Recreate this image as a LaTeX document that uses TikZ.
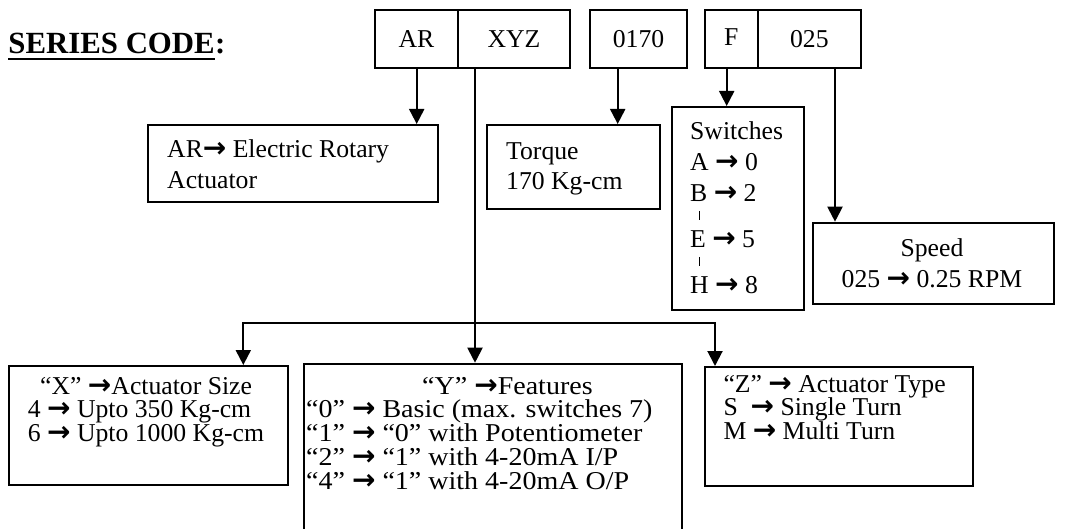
\documentclass[tikz,border=0pt]{standalone}
\usepackage{fontspec}
\setmainfont{Liberation Serif}
\newfontfamily\yfont{Liberation Serif}[FakeStretch=1.09]
\newfontfamily\arrowfont{DejaVu Sans}
\usetikzlibrary{arrows.meta}
\newcommand\ra{{\arrowfont\bfseries\fontsize{28}{24}\selectfont →}}
\newcommand\bodyfont{\fontsize{25.7}{24}\selectfont}
\newcommand\mlines[2]{\vtop{\baselineskip=#1\relax\lineskiplimit=-100pt\lineskip=0pt\halign{##\hfil\cr#2\crcr}}}
\tikzset{
  box/.style={draw, line width=2pt, rectangle, inner sep=0pt, anchor=north west, font=\bodyfont},
  txt/.style={inner sep=0pt, anchor=base west, font=\bodyfont},
  ctxt/.style={inner sep=0pt, anchor=base, font=\bodyfont},
  ln/.style={line width=2pt},
  arr/.style={line width=2pt, -{Triangle[width=15pt,length=15pt]}},
  head/.style={inner sep=0pt, anchor=base west, font=\fontsize{30.8}{32}\selectfont\bfseries},
}
\begin{document}
\begin{tikzpicture}[x=1pt,y=-1pt]
\clip (0,0) rectangle (1065,529);
\fill[white] (0,0) rectangle (1065,529);
% heading
\node[head] (sc) at (8.3,53.3) {SERIES CODE};
\node[head] (colon) at (sc.base east) {:};
\draw[line width=2.8pt] ([yshift=-5.8pt]sc.base west) -- ([yshift=-5.8pt]sc.base east);
% code boxes
\node[box, minimum width=82.4pt, minimum height=57.4pt] (ar) at (374.3,9.3) {AR};
\node[box, minimum width=112.6pt, minimum height=57.4pt] (xyz) at (456.7,9.3) {XYZ};
\node[box, minimum width=96.4pt, minimum height=57.4pt] (c0170) at (589.3,9.3) {0170};
\node[box, minimum width=52.7pt, minimum height=57.4pt] (f) at (704,9.3) {\raisebox{3pt}{F}};
\node[box, minimum width=103.3pt, minimum height=57.4pt] (s025) at (756.7,9.3) {025};
% description boxes
\node[box, minimum width=290pt, minimum height=76.7pt] (arbox) at (146.7,124) {};
\node[box, minimum width=173.3pt, minimum height=84.3pt] (torque) at (485.7,124) {};
\node[box, minimum width=132.3pt, minimum height=203pt] (switches) at (671,106) {};
\node[box, minimum width=240.7pt, minimum height=81.6pt] (speed) at (812.3,221.7) {};
\node[box, minimum width=279pt, minimum height=119pt] (xbox) at (8.3,365) {};
\node[box, minimum width=378pt, minimum height=220pt] (ybox) at (302.7,362.7) {};
\node[box, minimum width=267.7pt, minimum height=119pt] (zbox) at (704,366) {};
% texts
\node[txt] (artxt) at (167,158) {\mlines{31pt}{AR\ra{} Electric Rotary\cr Actuator}};
\node[txt] (torquetxt) at (506,160) {\mlines{30pt}{Torque\cr 170 Kg-cm}};
\node[txt] (s1) at (690,140) {Switches};
\node[txt] (s2) at (690,171) {A \ra{} 0};
\node[txt] (s3) at (690,201.5) {B \ra{} 2};
\node[txt] (s4) at (690,248) {E \ra{} 5};
\node[txt] (s5) at (690,294) {H \ra{} 8};
\draw[line width=1pt] (699,211) -- (699,220);
\draw[line width=1pt] (699,257) -- (699,266);
\node[ctxt] (p1) at (932,256.7) {Speed};
\node[ctxt] (p2) at (932,287.7) {025 \ra{} 0.25 RPM};
\node[txt] (xtxt) at (27.7,394) {\mlines{23.8pt}{\hskip12.3pt “X” \ra Actuator Size\cr
  4 \ra{} Upto 350 Kg-cm\cr
  6 \ra{} Upto 1000 Kg-cm}};
\node[txt, font=\bodyfont\yfont] (ytxt) at (306,394) {\mlines{23.8pt}{\hskip116pt “Y” \ra Features\cr
  “0” \ra{} Basic (max. switches 7)\cr
  “1” \ra{} “0” with Potentiometer\cr
  “2” \ra{} “1” with 4-20mA I/P\cr
  “4” \ra{} “1” with 4-20mA O/P}};
\node[txt] (ztxt) at (723.3,392) {\mlines{23.6pt}{“Z” \ra{} Actuator Type\cr
  S~~\ra{} Single Turn\cr
  M \ra{} Multi Turn}};
% connectors
\coordinate (pAR) at (416.7,66.7);
\coordinate (pXYZ) at (475,66.7);
\coordinate (p0170) at (617.7,66.7);
\coordinate (pF) at (726.7,66.7);
\coordinate (p025) at (835,66.7);
\coordinate (split) at (475,323.3);
\coordinate (dX) at (243.3,323.3);
\coordinate (dZ) at (715,323.3);
\draw[arr] (pAR |- ar.south) -- (pAR |- arbox.north);
\draw[arr] (p0170 |- c0170.south) -- (p0170 |- torque.north);
\draw[arr] (pF |- f.south) -- (pF |- switches.north);
\draw[arr] (p025 |- s025.south) -- (p025 |- speed.north);
\draw[ln] (pXYZ |- xyz.south) -- (split);
\draw[arr] (split) -- (split |- ybox.north);
\draw[arr] (split) -| (dX |- xbox.north);
\draw[arr] (split) -| (dZ |- zbox.north);
\end{tikzpicture}
\end{document}
